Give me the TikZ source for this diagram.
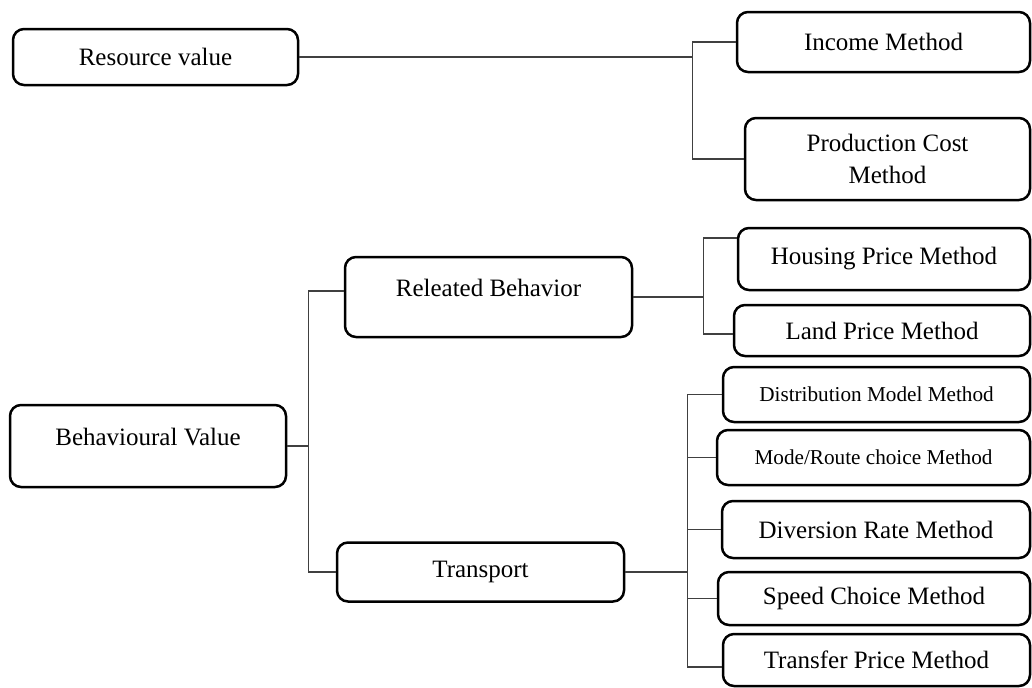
\documentclass[tikz,border=0pt]{standalone}
\usepackage{fontspec}
\setmainfont{Liberation Serif}
\usepackage{xcolor}
\definecolor{frame_black}{RGB}{0,0,0}
\definecolor{link_gray}{RGB}{64,64,64}
\usepackage{tikz}
\usetikzlibrary{positioning}
\tikzstyle{box} = [
    rectangle, rounded corners=5.5pt, text centered,
    line width=1.25pt, inner sep=2pt,
    draw=frame_black, fill=white, text=black,
    font=\fontsize{12.5}{16}\selectfont,
]
\tikzstyle{small_box} = [box, font=\fontsize{10.6}{13}\selectfont]
\tikzstyle{raised} = [text depth=9pt]
\tikzstyle{link} = [line width=0.75pt, link_gray]

\begin{document}
\begin{tikzpicture}[x=0.5pt, y=-0.5pt]
    \useasboundingbox (0,0) rectangle (1032,687);

    % resource value nodes
    \node[box, minimum width=142.5pt, minimum height=28pt] (resource) at (155.5,57) {Resource value};
    \node[box, minimum width=146.5pt, minimum height=30pt] (income) at (883.5,42) {Income Method};
    \node[box, minimum width=142.5pt, minimum height=41pt, align=center] (production) at (887.5,159) {Production Cost\\Method};

    % behavioural value nodes
    \node[box, raised, minimum width=138pt, minimum height=41pt] (behavioural) at (148,446) {Behavioural Value};
    \node[box, raised, minimum width=143.5pt, minimum height=40pt] (releated) at (488.5,297) {Releated Behavior};
    \node[box, minimum width=143.5pt, minimum height=29.5pt] (transport) at (480.5,572) {Transport};

    % related behavior methods
    \node[box, minimum width=146pt, minimum height=31pt] (housing) at (884,259) {Housing Price Method};
    \node[box, minimum width=148pt, minimum height=25.5pt] (land) at (882,330.5) {Land Price Method};

    % transport methods
    \node[small_box, minimum width=153.5pt, minimum height=27.5pt] (distribution) at (876.5,394.5) {Distribution Model Method};
    \node[small_box, minimum width=156.5pt, minimum height=27.5pt] (mode) at (873.5,457.5) {Mode/Route choice Method};
    \node[box, minimum width=154pt, minimum height=28.5pt] (diversion) at (876,529.5) {Diversion Rate Method};
    \node[box, minimum width=156pt, minimum height=26.5pt] (speed) at (874,598.5) {Speed Choice Method};
    \node[box, minimum width=153.5pt, minimum height=26pt] (transfer) at (876.5,660) {Transfer Price Method};

    % bus points
    \coordinate[right=196.5pt of resource.east] (resource_bus);
    \coordinate[right=10.5pt of behavioural.east] (behaviour_bus);
    \coordinate[right=35pt of releated.east] (releated_bus);
    \coordinate[right=31pt of transport.east] (transport_bus);

    % links of resource value
    \draw[link] (resource.east) -- (resource_bus);
    \draw[link] (income.west) -| (resource_bus) |- (production.west);

    % links of behavioural value
    \draw[link] (behavioural.east) -- (behaviour_bus);
    \draw[link] ([yshift=3pt]releated.west) -| (behaviour_bus) |- (transport.west);

    \draw[link] (releated.east) -- (releated_bus);
    \draw[link] ([yshift=10.5pt]housing.west) -| (releated_bus) |- ([yshift=-1.75pt]land.west);

    \draw[link] (transport.east) -- (transport_bus);
    \draw[link] (distribution.west) -| (transport_bus) |- ([yshift=-3.5pt]transfer.west);
    \foreach \method in {mode, diversion, speed}
        \draw[link] (transport_bus |- \method.west) -- (\method.west);
\end{tikzpicture}
\end{document}
